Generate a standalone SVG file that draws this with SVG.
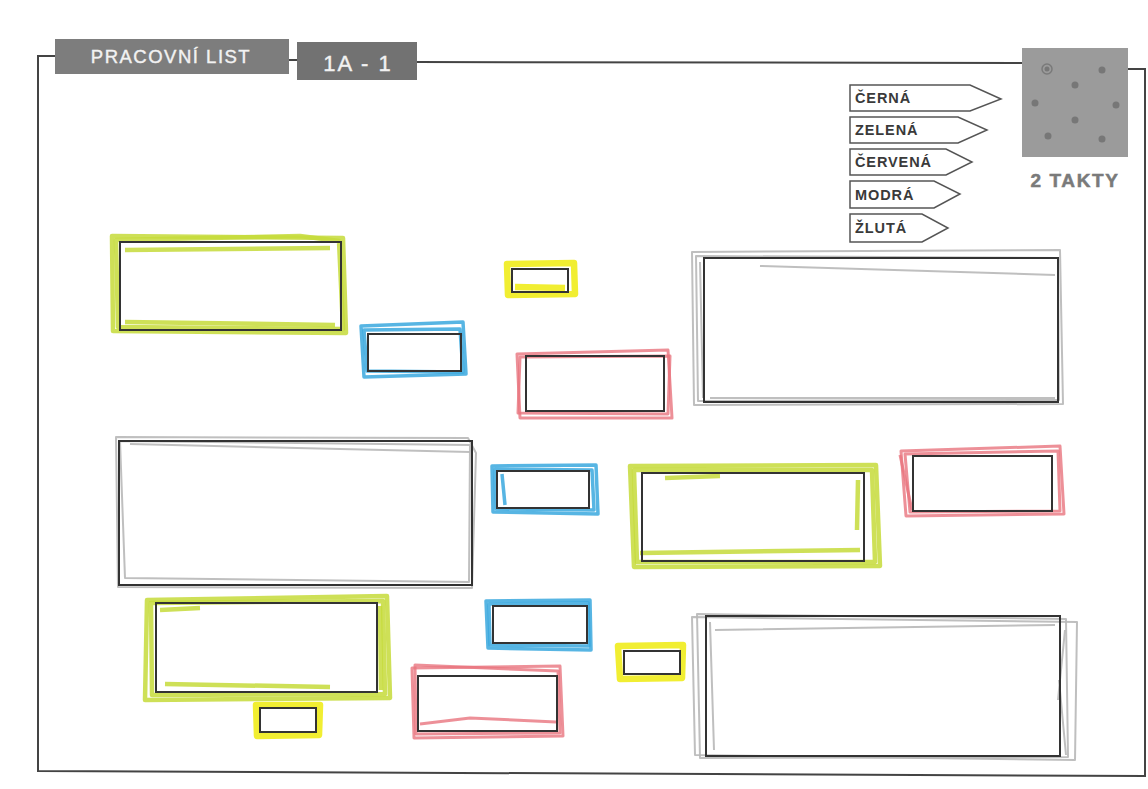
<svg xmlns="http://www.w3.org/2000/svg" width="1148" height="789" viewBox="0 0 1148 789">
<defs>
<style>
.frame{fill:none;stroke:#444;stroke-width:2}
.blk{fill:none;stroke:#333;stroke-width:2}
.g{fill:none;stroke:#c6db3a;stroke-width:4.5;stroke-linejoin:round;opacity:.85}
.b{fill:none;stroke:#3aa8de;stroke-width:3.5;stroke-linejoin:round;opacity:.85}
.y{fill:none;stroke:#f0ec1c;stroke-width:6.5;stroke-linejoin:round;opacity:.9}
.r{fill:none;stroke:#e8747e;stroke-width:3;stroke-linejoin:round;opacity:.8}
.k{fill:none;stroke:#b8b8b8;stroke-width:2;stroke-linejoin:round;opacity:.9}
.tag{fill:#fff;stroke:#555;stroke-width:1.5}
.tt{font-family:"Liberation Sans",Arial,sans-serif;font-weight:bold;font-size:14.5px;letter-spacing:0.9px;fill:#3a3a3a}
.hd{font-family:"Liberation Sans",Arial,sans-serif;fill:#f2f2f2;stroke:#f2f2f2;stroke-width:0.4}
.dot{fill:#777}
</style>
</defs>
<rect width="1148" height="789" fill="#fff"/>

<g id="frame">
<path class="frame" d="M56,56 L38,56 L38,771 L1145,776 L1145,69 L1128,69"/>
<path class="frame" d="M288,60 L298,60"/>
<path class="frame" d="M417,62 L1022,63"/>
</g>

<g id="header">
<rect x="55" y="39" width="234" height="35" fill="#7d7d7d"/>
<text class="hd" x="171" y="63" font-size="18.5" letter-spacing="1.5" text-anchor="middle">PRACOVNÍ LIST</text>
<rect x="297" y="42" width="120" height="38" fill="#727272"/>
<text class="hd" x="358" y="71" font-size="22" letter-spacing="2" text-anchor="middle">1A - 1</text>
</g>

<g id="takty">
<rect x="1022" y="48" width="106" height="109" fill="#9b9b9b"/>
<circle cx="1047" cy="69" r="5" fill="none" stroke="#7a7a7a" stroke-width="1.5"/>
<circle class="dot" cx="1047" cy="69" r="2.5"/>
<circle class="dot" cx="1102" cy="70" r="3.5"/>
<circle class="dot" cx="1075" cy="85" r="3.5"/>
<circle class="dot" cx="1035" cy="103" r="3.5"/>
<circle class="dot" cx="1116" cy="105" r="3.5"/>
<circle class="dot" cx="1075" cy="120" r="3.5"/>
<circle class="dot" cx="1048" cy="136" r="3.5"/>
<circle class="dot" cx="1102" cy="139" r="3.5"/>
<text x="1075" y="187" font-family="'Liberation Sans',Arial,sans-serif" font-weight="bold" font-size="19" letter-spacing="1.6" fill="#7a7a7a" stroke="#7a7a7a" stroke-width="0.5" text-anchor="middle">2 TAKTY</text>
</g>

<g id="legend">
<g id="tag-cerna"><path class="tag" d="M850,85 L970,85 L1001,99 L970,111 L850,111 Z"/><text class="tt" x="855" y="103">ČERNÁ</text></g>
<g id="tag-zelena"><path class="tag" d="M850,117 L958,117 L987,130 L958,143 L850,143 Z"/><text class="tt" x="855" y="135">ZELENÁ</text></g>
<g id="tag-cervena"><path class="tag" d="M850,149 L946,149 L972,162 L946,175 L850,175 Z"/><text class="tt" x="855" y="167">ČERVENÁ</text></g>
<g id="tag-modra"><path class="tag" d="M850,181 L934,181 L960,194 L934,208 L850,208 Z"/><text class="tt" x="855" y="200">MODRÁ</text></g>
<g id="tag-zluta"><path class="tag" d="M850,214 L922,214 L948,228 L922,242 L850,242 Z"/><text class="tt" x="855" y="233">ŽLUTÁ</text></g>
</g>

<g id="boxes">
<g id="n1">
<path class="g" d="M112,236 L343,238 L346,333 L113,331 Z"/>
<path class="g" d="M116,240 L300,236 L339,241 L343,329 L118,327 Z"/>
<path class="g" d="M125,250 L330,248 M125,322 L335,325"/>
<rect class="blk" x="120" y="242" width="221" height="88"/>
</g>
<g id="n2">
<path class="b" d="M361,326 L463,322 L466,374 L364,377 Z"/>
<path class="b" d="M364,330 L460,329 L463,372 L367,371 Z"/>
<rect class="blk" x="368" y="334" width="93" height="37"/>
</g>
<g id="n3">
<path class="y" d="M507,264 L574,263 L575,294 L508,295 Z"/>
<path class="y" d="M515,287 L565,288"/>
<rect class="blk" x="512" y="269" width="56" height="23"/>
</g>
<g id="n4">
<path class="r" d="M517,354 L668,350 L672,418 L520,418 Z"/>
<path class="r" d="M520,357 L670,356 L668,414 L518,413 Z"/>
<rect class="blk" x="526" y="356" width="138" height="55"/>
</g>
<g id="n5">
<path class="k" d="M692,252 L1060,250 L1063,404 L694,405 Z"/>
<path class="k" d="M696,256 L1058,258 L1059,400 L698,401 Z"/>
<path class="k" d="M760,266 L1055,275 M700,262 L703,398 M710,398 L1055,398"/>
<rect class="blk" x="704" y="258" width="354" height="144"/>
</g>
<g id="n6">
<path class="k" d="M116,437 L468,438 L476,453 L472,588 L118,587 Z"/>
<path class="k" d="M120,441 L470,445 L469,582 L125,578 Z"/>
<path class="k" d="M130,444 L470,452"/>
<rect class="blk" x="119" y="441" width="353" height="144"/>
</g>
<g id="n7">
<path class="b" d="M492,466 L596,465 L598,514 L493,512 Z"/>
<path class="b" d="M495,469 L592,470 L594,510 L496,509 Z"/>
<path class="b" d="M502,474 L505,505"/>
<rect class="blk" x="497" y="471" width="92" height="37"/>
</g>
<g id="n8">
<path class="g" d="M630,466 L876,465 L880,566 L634,567 Z"/>
<path class="g" d="M634,470 L872,470 L875,562 L637,562 Z"/>
<path class="g" d="M665,478 L720,476 M640,553 L860,550 M858,480 L857,530"/>
<rect class="blk" x="642" y="473" width="222" height="88"/>
</g>
<g id="n9">
<path class="r" d="M901,451 L1060,446 L1064,514 L906,516 Z"/>
<path class="r" d="M905,454 L1058,451 L1060,511 L910,512 Z"/>
<path class="r" d="M900,455 L912,510"/>
<rect class="blk" x="913" y="456" width="139" height="55"/>
</g>
<g id="n10">
<path class="g" d="M147,600 L387,596 L390,698 L145,700 Z"/>
<path class="g" d="M151,603 L383,601 L385,694 L152,695 Z"/>
<path class="g" d="M160,610 L200,608 M165,684 L330,687 M380,606 L381,690"/>
<rect class="blk" x="156" y="603" width="221" height="89"/>
</g>
<g id="n11">
<path class="b" d="M486,601 L590,600 L591,650 L488,648 Z"/>
<path class="b" d="M489,604 L588,603 L589,646 L490,645 Z"/>
<rect class="blk" x="493" y="606" width="94" height="37"/>
</g>
<g id="n12">
<path class="y" d="M618,646 L683,645 L682,678 L620,679 Z"/>
<rect class="blk" x="624" y="651" width="56" height="23"/>
</g>
<g id="n13">
<path class="y" d="M256,705 L320,705 L319,735 L257,736 Z"/>
<rect class="blk" x="260" y="708" width="56" height="24"/>
</g>
<g id="n14">
<path class="r" d="M412,668 L560,666 L563,736 L414,738 Z"/>
<path class="r" d="M415,665 L558,671 L560,733 L416,734 Z"/>
<path class="r" d="M420,724 L470,718 L556,722"/>
<rect class="blk" x="418" y="676" width="139" height="55"/>
</g>
<g id="n15">
<path class="k" d="M692,617 L1077,622 L1075,760 L695,755 Z"/>
<path class="k" d="M697,614 L1066,619 L1068,757 L700,758 Z"/>
<path class="k" d="M710,622 L714,750 M715,630 L1055,625 M1058,700 L1065,630 M1059,680 L1066,755"/>
<rect class="blk" x="706" y="616" width="354" height="140"/>
</g>
</g>
</svg>
